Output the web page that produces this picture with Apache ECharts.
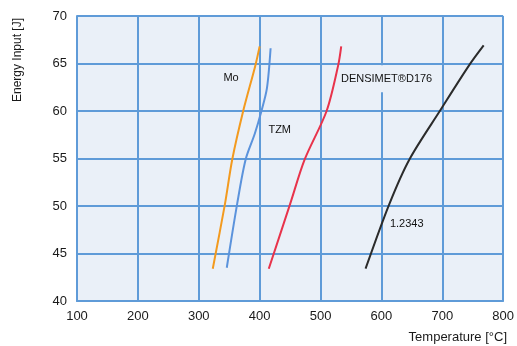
<!DOCTYPE html>
<html>
<head>
<meta charset="utf-8">
<script src="https://cdn.jsdelivr.net/npm/echarts@6/dist/echarts.min.js"></script>
<style>
  html, body { margin: 0; padding: 0; background: #fff; }
  #mychart { width: 517px; height: 346px; }
</style>
</head>
<body>
<div id="mychart"></div>
<script>
"use strict";
// [temperature °C, energy input J]
const moData = [[323, 43.4], [343, 50.2], [355, 54.9], [373, 60], [393, 64.8], [400, 66.8]];
const tzmData = [[346, 43.5], [363, 50.2], [377, 54.9], [392, 57.6], [403, 60], [412, 62.4], [418, 66.6]];
const densimetData = [[415, 43.4], [450, 50.2], [474, 54.9], [510, 60], [529, 64.8], [534, 66.8]];
const steelData = [[574, 43.4], [613, 50.2], [646, 54.9], [697, 60.1], [744, 64.8], [768, 66.9]];

const seriesNames = ['Mo', 'TZM', 'DENSIMET®D176', '1.2343'];
const seriesColors = ['#f39a1e', '#5b93dc', '#e8334b', '#2b2b2b'];
// label anchor in data units: [T, E, align]
const labelPos = [[353, 63.5, 'center'], [433, 58, 'center'], [532, 63.4, 'left'], [614, 48.1, 'left']];

const gridColor = '#5f9bd8';
const fontFam = '"Liberation Sans", Arial, sans-serif';

const container = document.getElementById('mychart');
const myChart = echarts.init(container, null, { renderer: 'canvas' });

const allData = [moData, tzmData, densimetData, steelData];

const option = {
    animation: false,
    grid: {
        left: 77,
        right: 11,
        top: 16,
        bottom: 45,
        show: true,
        backgroundColor: '#eaf0f8',
        borderWidth: 0
    },
    xAxis: {
        type: 'value',
        min: 100,
        max: 800,
        interval: 100,
        axisLine: { show: true, lineStyle: { color: gridColor, width: 2 } },
        axisTick: { show: false },
        axisLabel: { color: '#1a1a1a', fontSize: 13, fontFamily: fontFam, margin: 9 },
        splitLine: { show: true, lineStyle: { color: gridColor, width: 2 } }
    },
    yAxis: {
        type: 'value',
        min: 40,
        max: 70,
        interval: 5,
        axisLine: { show: true, lineStyle: { color: gridColor, width: 2 } },
        axisTick: { show: false },
        axisLabel: { color: '#1a1a1a', fontSize: 13, fontFamily: fontFam, margin: 10 },
        splitLine: { show: true, lineStyle: { color: gridColor, width: 2 } }
    },
    series: allData.map((d, i) => ({
        name: seriesNames[i],
        type: 'line',
        data: d,
        smooth: 0.3,
        showSymbol: false,
        symbol: 'none',
        z: 5,
        lineStyle: { color: seriesColors[i], width: 2 }
    })),
    graphic: [
        {
            type: 'text',
            x: 18,
            y: 60,
            rotation: Math.PI / 2,
            style: {
                text: 'Energy Input [J]',
                fill: '#1a1a1a',
                font: '12px ' + fontFam,
                align: 'center',
                verticalAlign: 'middle'
            }
        },
        {
            type: 'text',
            x: 507,
            y: 337,
            style: {
                text: 'Temperature [°C]',
                fill: '#1a1a1a',
                font: '13px ' + fontFam,
                align: 'right',
                verticalAlign: 'middle'
            }
        }
    ]
};
myChart.setOption(option);

// curve labels placed through the axes' scales
const labelGraphics = labelPos.map((p, i) => {
    const px = myChart.convertToPixel({ gridIndex: 0 }, [p[0], p[1]]);
    return {
        type: 'text',
        x: px[0],
        y: px[1],
        z: 10,
        style: {
            text: seriesNames[i],
            fill: '#111',
            font: '11px ' + fontFam,
            align: p[2],
            verticalAlign: 'middle',
            backgroundColor: i === 2 ? '#eaf0f8' : 'transparent',
            padding: i === 2 ? [8, 4, 8, 1] : 0
        }
    };
});
myChart.setOption({ graphic: option.graphic.concat(labelGraphics) });
</script>
</body>
</html>
